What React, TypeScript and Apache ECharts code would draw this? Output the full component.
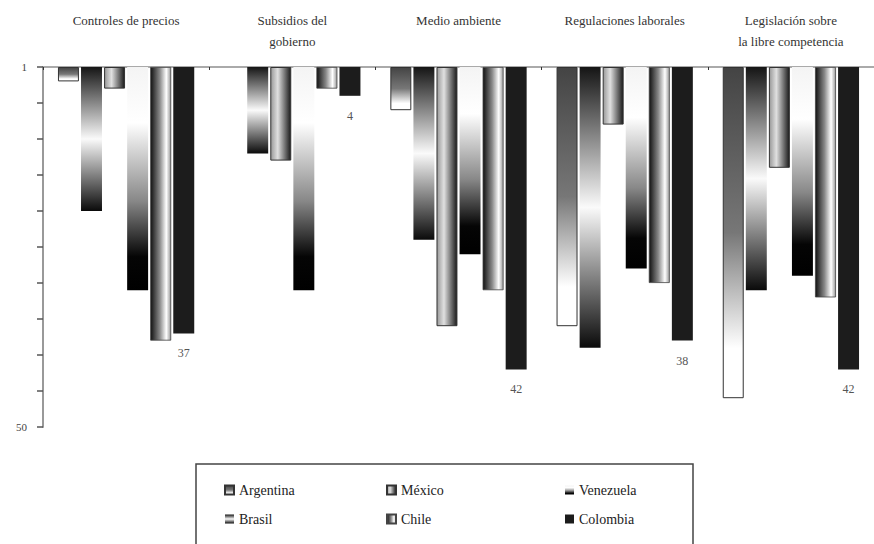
import React, { useEffect, useRef } from "react";
import * as echarts from "echarts";

const categories = [
  "Controles de precios",
  "Subsidios del\ngobierno",
  "Medio ambiente",
  "Regulaciones laborales",
  "Legislación sobre\nla libre competencia",
];

const argentina = [2, null, 6, 36, 46];
const brasil = [20, 12, 24, 39, 31];
const mexico = [3, 13, 36, 8, 14];
const venezuela = [31, 31, 26, 28, 29];
const chile = [38, 3, 31, 30, 32];
const colombia = [37, 4, 42, 38, 42];

const yTickValues = [0, 50];
const yTickLabels = ["1", "50"];

const FONT = "Liberation Serif";

const lg = (x2: number, y2: number, stops: [number, string][]) =>
  new echarts.graphic.LinearGradient(0, 0, x2, y2, stops.map(([offset, color]) => ({ offset, color })));

export default function App() {
  const ref = useRef<HTMLDivElement>(null);
  useEffect(() => {
    if (!ref.current) return;
    const chart = echarts.init(ref.current, undefined, { renderer: "svg" });
    const mk = (name: string, data: (number | null)[], itemStyle: any, extra: any = {}) => ({
      name,
      type: "bar",
      data,
      barCategoryGap: "18%",
      barGap: "10%",
      itemStyle,
      ...extra,
    });
    chart.setOption({
      animation: false,
      grid: { left: 43, top: 67, width: 836, height: 360 },
      xAxis: {
        type: "category",
        data: categories,
        position: "top",
        axisLine: { show: true, lineStyle: { color: "#aaa", width: 2 } },
        axisTick: { show: true, inside: true, length: 3, lineStyle: { color: "#333" } },
        axisLabel: {
          fontFamily: FONT,
          fontSize: 13,
          color: "#333",
          verticalAlign: "top",
          lineHeight: 21,
          margin: 57,
        },
      },
      yAxis: {
        type: "value",
        inverse: true,
        min: 0,
        max: 50,
        interval: 5,
        axisLine: { show: true, lineStyle: { color: "#999", width: 2 } },
        axisTick: { show: true, length: 6, lineStyle: { color: "#555", width: 1.5 } },
        splitLine: { show: false },
        axisLabel: {
          fontFamily: FONT,
          fontSize: 11,
          color: "#444",
          margin: 16,
          formatter: (v: number) => {
            const i = yTickValues.indexOf(v);
            return i >= 0 ? yTickLabels[i] : "";
          },
        },
      },
      legend: [
        { data: ["Argentina", "Brasil"], left: 224, top: 483 },
        { data: ["México", "Chile"], left: 386, top: 483 },
        { data: ["Venezuela", "Colombia"], left: 565, top: 483 },
      ].map((l) => ({
        ...l,
        orient: "vertical",
        icon: "rect",
        itemWidth: 9,
        itemHeight: 9,
        itemGap: 15,
        padding: 0,
        textStyle: { fontFamily: FONT, fontSize: 14, color: "#222" },
      })),
      graphic: [
        {
          type: "rect",
          shape: { x: 196, y: 464, width: 497, height: 95 },
          style: { fill: "none", stroke: "#444", lineWidth: 1.5 },
        },
      ],
      series: [
        mk("Argentina", argentina, {
          color: lg(0, 1, [[0, "#444"], [0.5, "#777"], [0.85, "#fff"], [1, "#fff"]]),
          borderColor: "#333",
          borderWidth: 1,
        }),
        mk("Brasil", brasil, {
          color: lg(0, 1, [[0, "#151515"], [0.5, "#fafafa"], [1, "#0a0a0a"]]),
        }),
        mk("México", mexico, {
          color: lg(1, 0, [[0, "#999"], [0.35, "#e0e0e0"], [1, "#1a1a1a"]]),
          borderColor: "#333",
          borderWidth: 1,
        }),
        mk("Venezuela", venezuela, {
          color: lg(0, 1, [[0, "#f4f4f4"], [0.25, "#fff"], [0.6, "#888"], [0.85, "#050505"], [1, "#000"]]),
        }),
        mk("Chile", chile, {
          color: lg(1, 0, [[0, "#111"], [0.45, "#888"], [0.78, "#fff"], [1, "#999"]]),
          borderColor: "#444",
          borderWidth: 0.8,
        }),
        mk(
          "Colombia",
          colombia,
          { color: "#1c1c1c" },
          {
            label: {
              show: true,
              position: "bottom",
              distance: 14,
              fontFamily: FONT,
              fontSize: 12,
              color: "#555",
            },
          }
        ),
      ],
    });
    return () => chart.dispose();
  }, []);
  return <div ref={ref} style={{ position: "fixed", left: 0, top: 0, width: 874, height: 544, background: "#fff" }} />;
}
